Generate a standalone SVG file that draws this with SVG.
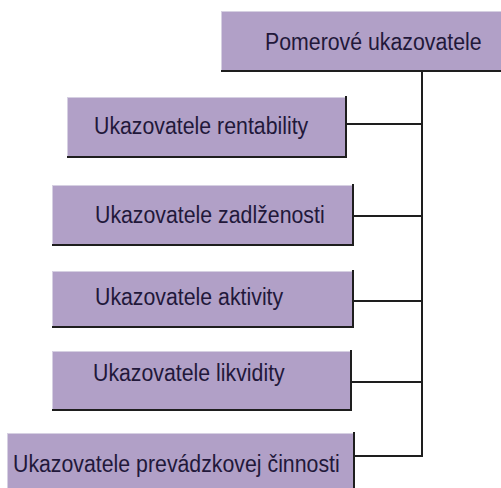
<svg xmlns="http://www.w3.org/2000/svg" width="501" height="488" viewBox="0 0 501 488">
<style>
.box{fill:#b1a0c7;stroke:#d6d0e2;stroke-width:1}
.edge{fill:none;stroke:#1e1e1e;stroke-width:2}
.lbl{font-family:"Liberation Sans",Arial,sans-serif;font-size:21.3px;fill:#22183a}
.conn{fill:none;stroke:#1e1e1e;stroke-width:2}
</style>
<rect width="501" height="488" fill="#ffffff"/>
<g id="connectors">
<line class="conn" x1="422" y1="71" x2="422" y2="457"/>
<line class="conn" x1="346" y1="124" x2="423" y2="124"/>
<line class="conn" x1="351" y1="216" x2="423" y2="216"/>
<line class="conn" x1="353" y1="301" x2="423" y2="301"/>
<line class="conn" x1="351" y1="382" x2="423" y2="382"/>
<line class="conn" x1="353" y1="456" x2="423" y2="456"/>
</g>
<g id="node-pomerove">
<rect class="box" x="221.5" y="11.5" width="281" height="59"/>
<polyline class="edge" points="221,71 502,71"/>
<text class="lbl" transform="translate(265 50) scale(1 1.12)">Pomerové ukazovatele</text>
</g>
<g id="node-rentabilita">
<rect class="box" x="67.5" y="97.5" width="278" height="59"/>
<polyline class="edge" points="67,157 346,157 346,96"/>
<text class="lbl" transform="translate(94 134) scale(1 1.12)">Ukazovatele rentability</text>
</g>
<g id="node-zadlzenost">
<rect class="box" x="52.5" y="185.5" width="300" height="59"/>
<polyline class="edge" points="52,245 353,245 353,184"/>
<text class="lbl" transform="translate(95 223) scale(1 1.12)">Ukazovatele zadlženosti</text>
</g>
<g id="node-aktivita">
<rect class="box" x="52.5" y="271.5" width="300" height="55"/>
<polyline class="edge" points="52,327 353,327 353,270"/>
<text class="lbl" transform="translate(95 305) scale(1 1.12)">Ukazovatele aktivity</text>
</g>
<g id="node-likvidita">
<rect class="box" x="52.5" y="351.5" width="298" height="58"/>
<polyline class="edge" points="52,410 351,410 351,350"/>
<text class="lbl" transform="translate(93 381) scale(1 1.12)">Ukazovatele likvidity</text>
</g>
<g id="node-prevadzkova">
<rect class="box" x="7.5" y="433.5" width="346" height="60"/>
<polyline class="edge" points="354,432 354,490"/>
<text class="lbl" transform="translate(13 472) scale(1 1.12)">Ukazovatele prevádzkovej činnosti</text>
</g>
</svg>
